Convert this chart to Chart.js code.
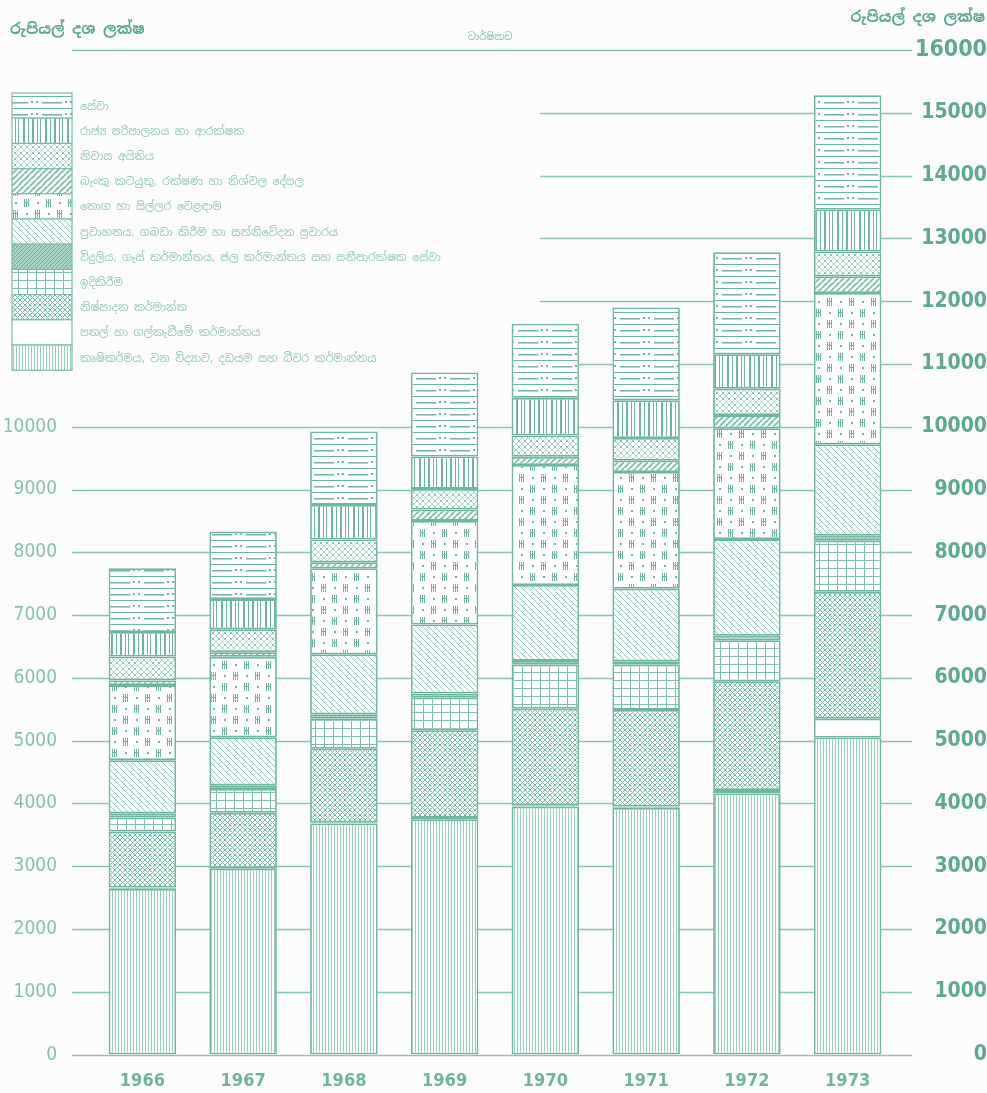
<!DOCTYPE html>
<html>
<head>
<meta charset="utf-8">
<script src="https://cdn.jsdelivr.net/npm/chart.js@4.4.0/dist/chart.umd.min.js"></script>
<style>
  html, body { margin: 0; padding: 0; background: #fbfcfb; }
  #c { display: block; }
</style>
</head>
<body>
<canvas id="c" width="987" height="1093"></canvas>
<script>
// years on the x axis
const years = ['1966', '1967', '1968', '1969', '1970', '1971', '1972', '1973'];

// series, bottom of the stack first (rupees million)
const agriculture   = [2640, 2960, 3680, 3750, 3950, 3930, 4160, 5050];
const mining        = [20, 10, 20, 20, 20, 20, 55, 300];
const manufacturing = [895, 880, 1170, 1395, 1540, 1540, 1730, 2020];
const construction  = [220, 380, 480, 520, 700, 720, 655, 815];
const electricity   = [70, 60, 70, 65, 60, 55, 70, 80];
const transport     = [845, 765, 955, 1100, 1210, 1155, 1540, 1455];
const trade         = [1195, 1280, 1370, 1650, 1910, 1860, 1765, 2410];
const banking       = [75, 75, 95, 180, 130, 180, 210, 265];
const dwellings     = [380, 365, 365, 330, 340, 360, 420, 395];
const publicAdmin   = [390, 480, 550, 515, 600, 600, 550, 670];
const services      = [1015, 1075, 1170, 1340, 1180, 1480, 1625, 1820];

const seriesNames = [
    'කෘෂිකර්මය, වන විද්‍යාව, දඩයම සහ ධීවර කර්මාන්තය',
    'පතල් හා ගල්කැඩීමේ කර්මාන්තය',
    'නිෂ්පාදන කර්මාන්ත',
    'ඉදිකිරීම',
    'විදුලිය, ගෑස් කර්මාන්තය, ජල කර්මාන්තය සහ සනීපාරක්ෂක සේවා',
    'ප්‍රවාහනය, ගබඩා කිරීම හා සන්නිවේදන ප්‍රචාරය',
    'තොග හා සිල්ලර වෙළඳාම',
    'බැංකු කටයුතු, රක්ෂණ හා නිශ්චල දේපල',
    'නිවාස අයිතිය',
    'රාජ්‍ය පරිපාලනය හා ආරක්ෂක',
    'සේවා'
];
const leftTicks = [0, 1000, 2000, 3000, 4000, 5000, 6000, 7000, 8000, 9000, 10000];
const unitLabel = 'රුපියල් දශ ලක්ෂ';
const subLabel = 'වාර්ෂිකව';

const ink = '#6db59c';
const numFont = '"DejaVu Sans Condensed", "Liberation Sans", sans-serif';
const canvas = document.getElementById('c');
const ctx = canvas.getContext('2d');

function line(g, x1, y1, x2, y2) {
    g.beginPath();
    g.moveTo(x1, y1);
    g.lineTo(x2, y2);
    g.stroke();
}

function makePattern(w, h, bg, draw) {
    const c = document.createElement('canvas');
    c.width = w;
    c.height = h;
    const g = c.getContext('2d');
    g.fillStyle = bg;
    g.fillRect(0, 0, w, h);
    draw(g, w, h);
    return ctx.createPattern(c, 'repeat');
}

function diag(g, s, dir) {
    for (const k of [-s, 0, s]) {
        if (dir > 0) line(g, k, s, k + s, 0);
        else line(g, k, 0, k + s, s);
    }
}

const patterns = [
    // agriculture: fine vertical lines
    makePattern(3, 3, '#fbfdfc', function (g) {
        g.strokeStyle = '#9ccfbb'; g.lineWidth = 1;
        line(g, 1.5, 0, 1.5, 3);
    }),
    // mining: plain
    '#ffffff',
    // manufacturing: dense diamond cross hatch
    makePattern(5, 5, '#f4faf7', function (g) {
        g.strokeStyle = '#77bba2'; g.lineWidth = 1;
        diag(g, 5, 1); diag(g, 5, -1);
    }),
    // construction: grid
    makePattern(9, 8, '#fff', function (g) {
        g.strokeStyle = '#80c0a9'; g.lineWidth = 1;
        line(g, 0.5, 0, 0.5, 8);
        line(g, 0, 0.5, 9, 0.5);
    }),
    // electricity: dark dotted band
    makePattern(4, 4, '#a6d4c2', function (g) {
        g.strokeStyle = '#6db59c'; g.lineWidth = 1;
        diag(g, 4, 1);
    }),
    // transport: back diagonal
    makePattern(6, 6, '#fff', function (g) {
        g.strokeStyle = '#8cc7b1'; g.lineWidth = 1;
        diag(g, 6, -1);
    }),
    // trade: little window blocks and dots
    makePattern(22, 22, '#fff', function (g) {
        g.fillStyle = ink;
        function block(x, y) {
            g.fillRect(x, y, 1, 8);
            g.fillRect(x + 2, y, 1, 8);
            g.fillRect(x + 4, y, 1, 8);
            g.fillRect(x, y + 3, 5, 1);
        }
        block(2, 1); block(13, 12);
        g.fillRect(15, 4, 2, 2); g.fillRect(4, 15, 2, 2);
    }),
    // banking: bold forward diagonal
    makePattern(6, 6, '#fff', function (g) {
        g.strokeStyle = '#78bca4'; g.lineWidth = 1.7;
        diag(g, 6, 1);
    }),
    // dwellings: light dotted diamonds
    makePattern(6, 6, '#fff', function (g) {
        g.strokeStyle = '#acd8c7'; g.lineWidth = 1;
        diag(g, 6, 1); diag(g, 6, -1);
        g.fillStyle = '#8cc6b1';
        g.fillRect(2, 2, 2, 2);
    }),
    // public administration: uneven vertical bars
    makePattern(22, 10, '#fff', function (g) {
        g.fillStyle = ink;
        g.fillRect(1, 0, 2, 10);
        g.fillRect(6, 0, 1, 10);
        g.fillRect(10, 0, 2, 10);
        g.fillRect(15, 0, 1, 10);
        g.fillRect(18, 0, 1, 10);
    }),
    // services: rows of dashes with dots
    makePattern(34, 12, '#fff', function (g) {
        g.fillStyle = ink;
        g.fillRect(0, 0, 34, 1);
        g.fillRect(8, 6, 20, 1.5);
        g.fillRect(2, 5, 2, 2);
        g.fillRect(31, 5, 2, 2);
    })
];

const seriesData = [agriculture, mining, manufacturing, construction, electricity,
    transport, trade, banking, dwellings, publicAdmin, services];

const datasets = seriesData.map(function (values, i) {
    return {
        label: seriesNames[i],
        data: values,
        backgroundColor: patterns[i],
        borderColor: '#6fb79d',
        borderWidth: 1.8,
        borderSkipped: false,
        barPercentage: 0.67,
        categoryPercentage: 1.0
    };
});

// legend box region (also hides the grid lines behind it)
const legendBox = { x: 12, y: 93, w: 60, row: 25.2, maskRight: 540, maskTop: 62, maskBottom: 378 };

const gridPlugin = {
    id: 'gridLines',
    beforeDatasetsDraw(chart) {
        const y = chart.scales.y2;
        const c = chart.ctx;
        c.save();
        c.strokeStyle = '#8cc7b1';
        c.lineWidth = 1.4;
        for (let v = 0; v <= 16000; v += 1000) {
            const py = Math.round(y.getPixelForValue(v)) + 0.5;
            let x0 = 72;
            if (v < 16000 && py > legendBox.maskTop && py < legendBox.maskBottom) x0 = legendBox.maskRight;
            line(c, x0, py, 912, py);
        }
        c.restore();
    },
    afterDraw(chart) {
        const c = chart.ctx;
        c.save();
        // legend: swatches top to bottom, services first
        for (let k = 0; k < seriesNames.length; k++) {
            const i = seriesNames.length - 1 - k;
            const top = legendBox.y + k * legendBox.row;
            c.fillStyle = patterns[i];
            c.fillRect(legendBox.x, top, legendBox.w, legendBox.row);
            c.strokeStyle = '#7cbda5';
            c.lineWidth = 1.2;
            c.strokeRect(legendBox.x, top, legendBox.w, legendBox.row);
            c.fillStyle = '#97c9b6';
            c.font = '11px "Noto Sans Sinhala", "Noto Sans", sans-serif';
            c.textAlign = 'left';
            c.textBaseline = 'middle';
            c.fillText(seriesNames[i], 80, top + legendBox.row / 2 + 1);
        }
        // unit labels
        c.fillStyle = '#5fa98f';
        c.font = 'bold 15px "Noto Sans Sinhala", "Noto Sans", sans-serif';
        c.textBaseline = 'middle';
        c.textAlign = 'left';
        c.fillText(unitLabel, 10, 30);
        c.textAlign = 'right';
        c.fillText(unitLabel, 985, 18);
        c.fillStyle = '#86c2ab';
        c.font = '10px "Noto Sans Sinhala", "Noto Sans", sans-serif';
        c.textAlign = 'center';
        c.fillText(subLabel, 490, 37);
        c.restore();
    }
};

new Chart(ctx, {
    type: 'bar',
    data: { labels: years, datasets: datasets },
    options: {
        responsive: false,
        animation: false,
        layout: { padding: { top: 50, left: 0, right: 0, bottom: 0 } },
        plugins: { legend: { display: false }, tooltip: { enabled: false } },
        scales: {
            x: {
                stacked: true,
                grid: { display: false },
                border: { display: false },
                ticks: {
                    color: '#6fb59b',
                    padding: 8,
                    font: { family: numFont, size: 18, weight: 'bold' }
                },
                afterFit(scale) { scale.height = 34; }
            },
            y: {
                stacked: true,
                position: 'left',
                min: 0,
                max: 16000,
                grid: { display: false },
                border: { display: false },
                afterBuildTicks(scale) { scale.ticks = leftTicks.map(function (v) { return { value: v }; }); },
                ticks: {
                    color: '#86c2ab',
                    padding: 27,
                    callback: function (v) { return String(v); },
                    font: { family: numFont, size: 19 }
                },
                afterFit(scale) { scale.width = 92; }
            },
            y2: {
                position: 'right',
                min: 0,
                max: 16000,
                grid: { display: false },
                border: { display: false },
                ticks: {
                    stepSize: 1000,
                    color: '#5fa98f',
                    padding: 4,
                    crossAlign: 'far',
                    callback: function (v) { return String(v); },
                    font: function (c) {
                        const top = c.tick && c.tick.value === 16000;
                        return { family: numFont, size: top ? 23 : 21, weight: 'bold' };
                    }
                },
                afterFit(scale) { scale.width = 89; }
            }
        }
    },
    plugins: [gridPlugin]
});
</script>
</body>
</html>
